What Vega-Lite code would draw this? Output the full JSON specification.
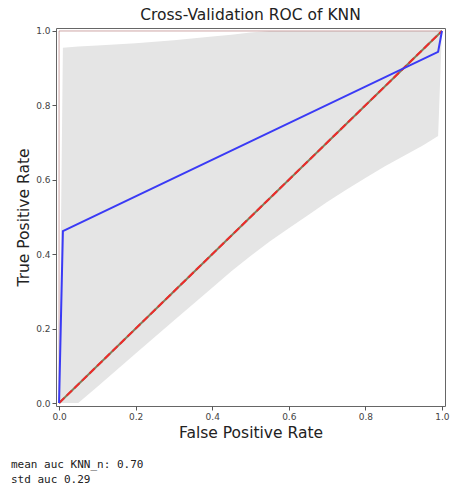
{
  "$schema": "https://vega.github.io/schema/vega-lite/v6.json",
  "padding": {"left": 11, "top": 7, "right": 4, "bottom": 0},
  "spacing": 16,
  "background": "white",
  "config": {
    "font": "DejaVu Sans",
    "view": {"stroke": "#666", "strokeWidth": 1},
    "axis": {
      "domain": false,
      "grid": false,
      "tickColor": "#555",
      "tickSize": 4,
      "labelFontSize": 9,
      "labelColor": "#444",
      "labelPadding": 2,
      "titleFontSize": 15.5,
      "titleFontWeight": "normal",
      "titleColor": "#222",
      "titlePadding": 4
    },
    "title": {"fontSize": 15.5, "fontWeight": "normal", "color": "#222", "offset": 3}
  },
  "datasets": {
    "band": [
      {"fpr": 0.0, "lo": 0.0, "hi": 0.0},
      {"fpr": 0.01, "lo": 0.0, "hi": 0.955},
      {"fpr": 0.05, "lo": 0.0, "hi": 0.958},
      {"fpr": 0.1, "lo": 0.044, "hi": 0.961},
      {"fpr": 0.2, "lo": 0.133, "hi": 0.967},
      {"fpr": 0.3, "lo": 0.222, "hi": 0.975},
      {"fpr": 0.4, "lo": 0.31, "hi": 0.985},
      {"fpr": 0.45, "lo": 0.354, "hi": 0.99},
      {"fpr": 0.5, "lo": 0.395, "hi": 0.996},
      {"fpr": 0.55, "lo": 0.434, "hi": 1.0},
      {"fpr": 0.6, "lo": 0.47, "hi": 1.0},
      {"fpr": 0.65, "lo": 0.505, "hi": 1.0},
      {"fpr": 0.7, "lo": 0.54, "hi": 1.0},
      {"fpr": 0.75, "lo": 0.573, "hi": 1.0},
      {"fpr": 0.8, "lo": 0.605, "hi": 1.0},
      {"fpr": 0.85, "lo": 0.636, "hi": 1.0},
      {"fpr": 0.9, "lo": 0.664, "hi": 1.0},
      {"fpr": 0.95, "lo": 0.692, "hi": 1.0},
      {"fpr": 0.99, "lo": 0.718, "hi": 1.0},
      {"fpr": 1.0, "lo": 1.0, "hi": 1.0}
    ],
    "curves": [
      {"series": "fold_perfect", "i": 0, "fpr": 0.0, "tpr": 0.0},
      {"series": "fold_perfect", "i": 1, "fpr": 0.0, "tpr": 1.0},
      {"series": "fold_perfect", "i": 2, "fpr": 1.0, "tpr": 1.0},
      {"series": "fold_diag", "i": 0, "fpr": 0.0, "tpr": 0.0},
      {"series": "fold_diag", "i": 1, "fpr": 1.0, "tpr": 1.0},
      {"series": "chance", "i": 0, "fpr": 0.0, "tpr": 0.0},
      {"series": "chance", "i": 1, "fpr": 1.0, "tpr": 1.0},
      {"series": "mean", "i": 0, "fpr": 0.0, "tpr": 0.0},
      {"series": "mean", "i": 1, "fpr": 0.01, "tpr": 0.462},
      {"series": "mean", "i": 2, "fpr": 0.99, "tpr": 0.944},
      {"series": "mean", "i": 3, "fpr": 1.0, "tpr": 1.0}
    ],
    "notes": [
      {"k": 1, "line": "mean auc KNN_n: 0.70"},
      {"k": 2, "line": "std auc 0.29"}
    ]
  },
  "vconcat": [
    {
      "title": "Cross-Validation ROC of KNN",
      "width": 389,
      "height": 378,
      "encoding": {
        "x": {
          "field": "fpr", "type": "quantitative",
          "scale": {"domain": [-0.008, 1.008], "nice": false, "zero": false},
          "axis": {"values": [0, 0.2, 0.4, 0.6, 0.8, 1.0], "format": ".1f", "title": "False Positive Rate"}
        }
      },
      "layer": [
        {
          "data": {"name": "band"},
          "mark": {"type": "area", "color": "#e5e5e5", "opacity": 1},
          "encoding": {
            "y": {
              "field": "hi", "type": "quantitative",
              "scale": {"domain": [-0.008, 1.008], "nice": false, "zero": false},
              "axis": {"values": [0, 0.2, 0.4, 0.6, 0.8, 1.0], "format": ".1f", "title": "True Positive Rate"}
            },
            "y2": {"field": "lo"}
          }
        },
        {
          "data": {"name": "curves"},
          "transform": [{"filter": "datum.series == 'fold_perfect'"}],
          "mark": {"type": "line", "color": "#a05050", "strokeWidth": 1, "opacity": 0.5},
          "encoding": {
            "y": {"field": "tpr", "type": "quantitative"},
            "order": {"field": "i"}
          }
        },
        {
          "data": {"name": "curves"},
          "transform": [{"filter": "datum.series == 'fold_diag'"}],
          "mark": {"type": "line", "color": "#7f7f5a", "strokeWidth": 2},
          "encoding": {
            "y": {"field": "tpr", "type": "quantitative"},
            "order": {"field": "i"}
          }
        },
        {
          "data": {"name": "curves"},
          "transform": [{"filter": "datum.series == 'chance'"}],
          "mark": {"type": "line", "color": "#ee2a2a", "strokeWidth": 2, "strokeDash": [7.4, 3.2]},
          "encoding": {
            "y": {"field": "tpr", "type": "quantitative"},
            "order": {"field": "i"}
          }
        },
        {
          "data": {"name": "curves"},
          "transform": [{"filter": "datum.series == 'mean'"}],
          "mark": {"type": "line", "color": "#3a3af5", "strokeWidth": 2},
          "encoding": {
            "y": {"field": "tpr", "type": "quantitative"},
            "order": {"field": "i"}
          }
        }
      ]
    },
    {
      "width": 200,
      "height": 30,
      "view": {"stroke": null},
      "data": {"name": "notes"},
      "mark": {"type": "text", "align": "left", "baseline": "middle", "dx": -45, "font": "DejaVu Sans Mono", "fontSize": 11, "color": "#222"},
      "encoding": {
        "x": {"datum": 0, "type": "quantitative", "scale": {"domain": [0, 1]}, "axis": null},
        "y": {"field": "k", "type": "ordinal", "axis": null},
        "text": {"field": "line"}
      }
    }
  ]
}
